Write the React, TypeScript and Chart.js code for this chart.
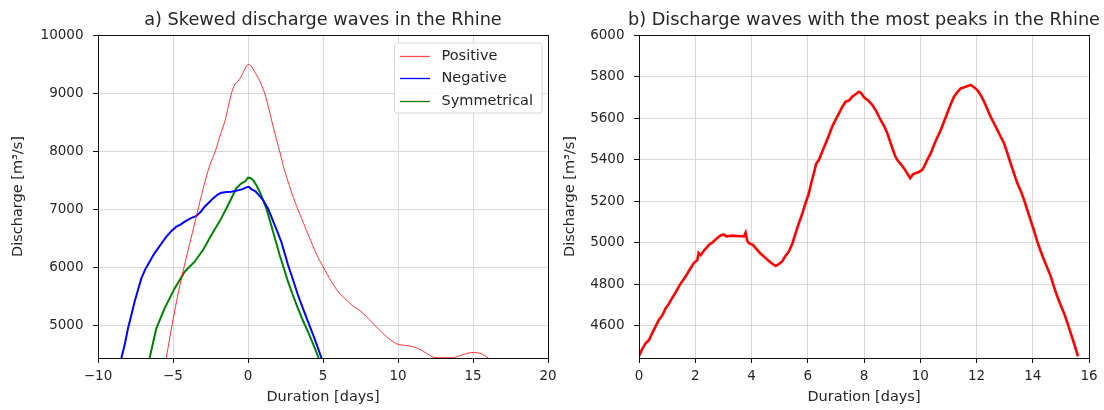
import React, { useEffect, useRef } from "react";
import { Chart, registerables } from "chart.js";

Chart.register(...registerables);

// ---------- Panel a) data ----------
const posX = [-5.45, -5.07, -4.7, -4.27, -3.8, -3.33, -2.95, -2.56, -2.18, -1.85, -1.56, -1.3, -1.1, -0.9, -0.6, -0.44, -0.2, 0.0, 0.2, 0.44, 0.8, 1.11, 1.4, 1.7, 2.11, 2.4, 2.67, 3.0, 3.33, 3.8, 4.22, 4.6, 5.04, 5.56, 6.0, 6.44, 7.0, 7.56, 8.0, 8.44, 8.9, 9.33, 9.7, 10.0, 10.5, 11.0, 11.5, 12.0, 12.4, 13.0, 13.7, 14.2, 14.6, 15.0, 15.4, 15.7, 16.0];
const posY = [4445, 5000, 5500, 6000, 6500, 7000, 7400, 7750, 8000, 8280, 8500, 8780, 9000, 9140, 9230, 9290, 9420, 9495, 9470, 9370, 9200, 9000, 8720, 8400, 8000, 7700, 7480, 7220, 7000, 6700, 6440, 6210, 6000, 5760, 5590, 5470, 5340, 5240, 5130, 5010, 4890, 4790, 4720, 4680, 4660, 4640, 4590, 4510, 4455, 4450, 4452, 4490, 4525, 4540, 4530, 4500, 4445];

const negX = [-8.44, -8.2, -8.0, -7.78, -7.56, -7.33, -7.11, -6.85, -6.56, -6.3, -6.0, -5.7, -5.44, -5.1, -4.78, -4.5, -4.22, -3.8, -3.44, -3.15, -2.89, -2.6, -2.33, -2.05, -1.78, -1.4, -1.11, -0.67, -0.4, -0.11, 0.05, 0.22, 0.5, 0.89, 1.1, 1.33, 1.55, 1.78, 2.0, 2.22, 2.45, 2.67, 3.0, 3.33, 3.66, 4.0, 4.45, 4.9];
const negY = [4445, 4700, 4954, 5180, 5413, 5620, 5814, 5970, 6101, 6220, 6330, 6440, 6531, 6630, 6703, 6740, 6789, 6850, 6887, 6960, 7047, 7120, 7190, 7250, 7288, 7300, 7305, 7328, 7345, 7380, 7390, 7350, 7310, 7200, 7120, 7018, 6880, 6732, 6590, 6445, 6240, 6044, 5790, 5528, 5300, 5069, 4770, 4445];

const symX = [-6.56, -6.11, -5.56, -4.89, -4.22, -3.56, -3.0, -2.44, -1.78, -1.22, -0.78, -0.44, -0.2, 0.0, 0.15, 0.33, 0.55, 0.78, 1.0, 1.22, 1.45, 1.67, 1.9, 2.11, 2.4, 2.67, 3.0, 3.33, 3.66, 4.0, 4.35, 4.71];
const symY = [4445, 4954, 5298, 5642, 5929, 6101, 6302, 6560, 6846, 7133, 7362, 7448, 7480, 7546, 7540, 7506, 7420, 7305, 7170, 7018, 6820, 6617, 6410, 6216, 5980, 5757, 5520, 5298, 5090, 4897, 4680, 4445];

const leftXTicks = [-10, -5, 0, 5, 10, 15, 20];
const leftYTicks = [5000, 6000, 7000, 8000, 9000, 10000];

// ---------- Panel b) data ----------
const peakX = [0.0, 0.12, 0.24, 0.35, 0.47, 0.6, 0.71, 0.83, 0.95, 1.06, 1.18, 1.3, 1.42, 1.54, 1.66, 1.8, 1.95, 2.07, 2.12, 2.19, 2.3, 2.49, 2.6, 2.78, 2.9, 3.02, 3.1, 3.32, 3.5, 3.73, 3.79, 3.85, 3.91, 4.05, 4.15, 4.3, 4.44, 4.55, 4.68, 4.86, 4.95, 5.09, 5.2, 5.33, 5.45, 5.57, 5.7, 5.81, 5.92, 6.04, 6.13, 6.22, 6.3, 6.4, 6.52, 6.64, 6.76, 6.87, 7.0, 7.11, 7.23, 7.35, 7.47, 7.58, 7.7, 7.82, 7.9, 8.0, 8.15, 8.3, 8.45, 8.59, 8.72, 8.83, 8.92, 9.01, 9.1, 9.18, 9.3, 9.42, 9.53, 9.64, 9.75, 9.84, 9.95, 10.07, 10.15, 10.25, 10.37, 10.49, 10.6, 10.73, 10.85, 10.96, 11.08, 11.2, 11.32, 11.44, 11.6, 11.79, 11.9, 12.03, 12.15, 12.27, 12.38, 12.5, 12.62, 12.74, 12.86, 12.98, 13.1, 13.21, 13.33, 13.45, 13.57, 13.69, 13.8, 13.92, 14.04, 14.16, 14.28, 14.4, 14.52, 14.64, 14.75, 14.87, 14.99, 15.11, 15.23, 15.35, 15.48, 15.61];
const peakY = [4455, 4490, 4517, 4530, 4565, 4600, 4629, 4650, 4685, 4705, 4734, 4760, 4790, 4815, 4838, 4870, 4902, 4915, 4950, 4940, 4960, 4990, 5000, 5022, 5035, 5040, 5030, 5034, 5032, 5030, 5048, 5010, 4998, 4990, 4974, 4950, 4934, 4920, 4905, 4888, 4895, 4910, 4935, 4958, 4995, 5046, 5100, 5142, 5190, 5238, 5290, 5335, 5380, 5399, 5440, 5479, 5520, 5559, 5595, 5623, 5655, 5679, 5685, 5703, 5715, 5727, 5720, 5700, 5685, 5663, 5630, 5591, 5560, 5527, 5490, 5455, 5420, 5399, 5380, 5359, 5335, 5311, 5330, 5335, 5340, 5351, 5370, 5399, 5430, 5471, 5505, 5543, 5585, 5623, 5665, 5703, 5725, 5743, 5750, 5760, 5750, 5735, 5710, 5679, 5645, 5607, 5575, 5543, 5510, 5479, 5430, 5383, 5335, 5287, 5250, 5207, 5160, 5110, 5060, 5006, 4960, 4918, 4878, 4838, 4790, 4742, 4700, 4662, 4615, 4565, 4510, 4453];

const rightXTicks = [0, 2, 4, 6, 8, 10, 12, 14, 16];
const rightYTicks = [4600, 4800, 5000, 5200, 5400, 5600, 5800, 6000];

const FONT = "'DejaVu Sans', sans-serif";
const TEXT = "#262626";
const GRID = "#d8d8d8";

const toPts = (xs: number[], ys: number[]) => xs.map((x, i) => ({ x, y: ys[i] }));
const fmt = (v: number) => (v < 0 ? "\u2212" + Math.abs(v) : String(v));

const framePlugin = {
  id: "frame",
  afterDatasetsDraw(chart: any) {
    const { ctx, chartArea } = chart;
    const { left, top, right, bottom } = chartArea;
    ctx.save();
    ctx.strokeStyle = "#111";
    ctx.lineWidth = 1;
    ctx.strokeRect(Math.round(left) + 0.5, Math.round(top) + 0.5, Math.round(right - left), Math.round(bottom - top));
    ctx.restore();
  },
};

const titlePlugin = {
  id: "panelTitle",
  afterDraw(chart: any, _a: any, opts: any) {
    if (!opts || !opts.text) return;
    const { ctx, chartArea } = chart;
    ctx.save();
    ctx.font = `${opts.size}px ${FONT}`;
    ctx.fillStyle = TEXT;
    ctx.textAlign = "center";
    ctx.textBaseline = "middle";
    ctx.fillText(opts.text, (chartArea.left + chartArea.right) / 2, opts.y);
    ctx.restore();
  },
};

const legendPlugin = {
  id: "boxLegend",
  afterDraw(chart: any, _a: any, opts: any) {
    if (!opts || !opts.show) return;
    const { ctx } = chart;
    const { x, y, w, h } = opts;
    ctx.save();
    ctx.beginPath();
    if (ctx.roundRect) ctx.roundRect(x + 0.5, y + 0.5, w, h, 3);
    else ctx.rect(x + 0.5, y + 0.5, w, h);
    ctx.fillStyle = "rgba(255,255,255,0.85)";
    ctx.fill();
    ctx.strokeStyle = "#d6d6d6";
    ctx.lineWidth = 1;
    ctx.stroke();
    ctx.font = `14.5px ${FONT}`;
    ctx.textAlign = "left";
    ctx.textBaseline = "middle";
    chart.data.datasets.forEach((ds: any, i: number) => {
      const cy = y + 13 + i * 22.5;
      ctx.beginPath();
      ctx.strokeStyle = ds.legendColor || ds.borderColor;
      ctx.lineWidth = 1.3;
      ctx.moveTo(x + 6, Math.round(cy) + 0.5);
      ctx.lineTo(x + 36, Math.round(cy) + 0.5);
      ctx.stroke();
      ctx.fillStyle = TEXT;
      ctx.fillText(ds.label, x + 47.5, cy + 0.5);
    });
    ctx.restore();
  },
};

function makeScales(xMin: number, xMax: number, xTicks: number[], yMin: number, yMax: number, yTicks: number[], yWidth: number, xHeight: number) {
  const common = {
    grid: { color: GRID, lineWidth: 1, tickLength: 5, tickColor: "#111", tickWidth: 1 },
    border: { color: "#111", width: 1 },
  };
  return {
    x: {
      type: "linear" as const,
      min: xMin,
      max: xMax,
      ...common,
      afterBuildTicks: (s: any) => {
        s.ticks = xTicks.map((v) => ({ value: v }));
      },
      afterFit: (s: any) => {
        s.height = xHeight;
        s.paddingLeft = 0;
        s.paddingRight = 0;
      },
      ticks: {
        autoSkip: false,
        maxRotation: 0,
        padding: 5,
        color: TEXT,
        font: { family: FONT, size: 13.5 },
        callback: (v: any) => fmt(Number(v)),
      },
      title: {
        display: true,
        text: "Duration [days]",
        color: TEXT,
        font: { family: FONT, size: 14.5 },
        padding: { top: 0, bottom: 4.3 },
      },
    },
    y: {
      type: "linear" as const,
      min: yMin,
      max: yMax,
      ...common,
      afterBuildTicks: (s: any) => {
        s.ticks = yTicks.map((v) => ({ value: v }));
      },
      afterFit: (s: any) => {
        s.width = yWidth;
        s.paddingTop = 0;
        s.paddingBottom = 0;
      },
      ticks: {
        autoSkip: false,
        padding: 9.5,
        color: TEXT,
        font: { family: FONT, size: 13.5 },
        callback: (v: any) => fmt(Number(v)),
      },
      title: {
        display: true,
        text: "Discharge [m\u00b3/s]",
        color: TEXT,
        font: { family: FONT, size: 14.5 },
        padding: { top: 9.8, bottom: 0 },
      },
    },
  };
}

function ChartCanvas({ config, left, width }: { config: any; left: number; width: number }) {
  const ref = useRef<HTMLCanvasElement | null>(null);
  useEffect(() => {
    if (!ref.current) return;
    const chart = new Chart(ref.current, config);
    return () => chart.destroy();
  }, [config]);
  return (
    <canvas
      ref={ref}
      width={width}
      height={410}
      style={{ position: "absolute", left, top: 0, width, height: 410, display: "block" }}
    />
  );
}

const leftConfig: any = {
  type: "line",
  data: {
    datasets: [
      { label: "Positive", data: toPts(posX, posY), borderColor: "rgba(255,0,0,0.8)", legendColor: "rgba(255,60,60,0.9)", borderWidth: 1, pointRadius: 0, tension: 0.2 },
      { label: "Negative", data: toPts(negX, negY), borderColor: "#0000ff", borderWidth: 2, pointRadius: 0, tension: 0 },
      { label: "Symmetrical", data: toPts(symX, symY), borderColor: "#008000", borderWidth: 2, pointRadius: 0, tension: 0 },
    ],
  },
  options: {
    animation: false,
    responsive: false,
    events: [],
    layout: { padding: { top: 35, right: 52, bottom: 0, left: 0 } },
    scales: makeScales(-10, 20, leftXTicks, 4445, 10000, leftYTicks, 98, 52),
    plugins: {
      legend: { display: false },
      title: { display: false },
      tooltip: { enabled: false },
      panelTitle: { text: "a) Skewed discharge waves in the Rhine", size: 17.7, y: 20.5 },
      boxLegend: { show: true, x: 394, y: 42.5, w: 147.5, h: 70 },
    },
  },
  plugins: [framePlugin, titlePlugin, legendPlugin],
};

const rightConfig: any = {
  type: "line",
  data: {
    datasets: [
      { label: "peaks", data: toPts(peakX, peakY), borderColor: "#ff0000", borderWidth: 2.6, pointRadius: 0, tension: 0 },
    ],
  },
  options: {
    animation: false,
    responsive: false,
    events: [],
    layout: { padding: { top: 35, right: 15, bottom: 0, left: 0 } },
    scales: makeScales(0, 16, rightXTicks, 4445, 6000, rightYTicks, 87, 52),
    plugins: {
      legend: { display: false },
      title: { display: false },
      tooltip: { enabled: false },
      panelTitle: { text: "b) Discharge waves with the most peaks in the Rhine", size: 17.7, y: 20.5 },
      boxLegend: { show: false },
    },
  },
  plugins: [framePlugin, titlePlugin, legendPlugin],
};

export default function App() {
  return (
    <div style={{ position: "fixed", left: 0, top: 0, width: 1104, height: 410, background: "#fff", overflow: "hidden" }}>
      <ChartCanvas config={leftConfig} left={0} width={600} />
      <ChartCanvas config={rightConfig} left={552} width={552} />
    </div>
  );
}
